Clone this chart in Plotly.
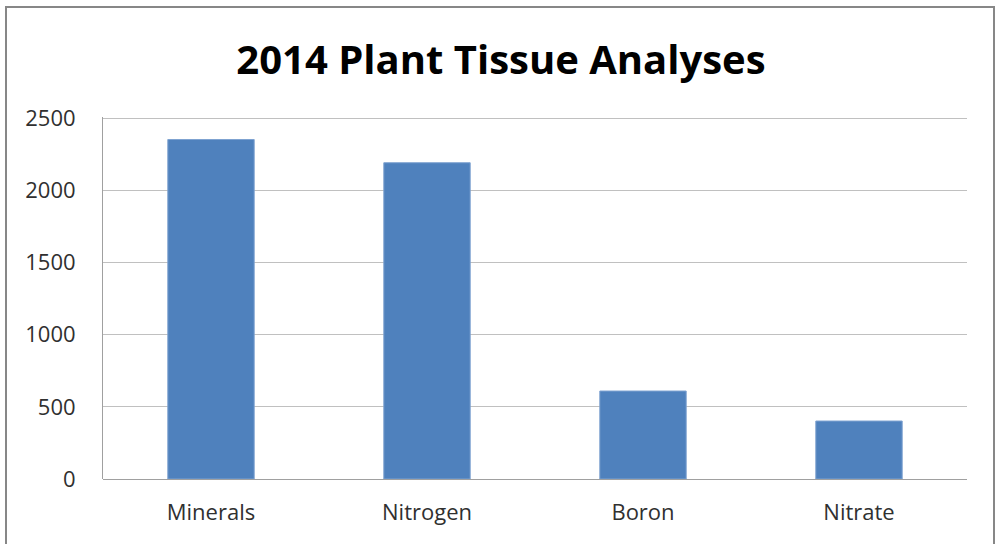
import plotly.graph_objects as go

categories = ["Minerals", "Nitrogen", "Boron", "Nitrate"]
values = [2354, 2193, 610, 402]
y_ticks = [0, 500, 1000, 1500, 2000, 2500]
title_text = "2014 Plant Tissue Analyses"

W, H = 995, 544
ML, MR, MT, MB = 103, 28, 117, 65
pw, ph = W - ML - MR, H - MT - MB

fig = go.Figure(go.Bar(
    x=categories, y=values,
    marker=dict(color="#4F81BD", line=dict(color="#7FA3D1", width=1)),
))

fig.update_layout(
    width=W, height=H,
    margin=dict(l=ML, r=MR, t=MT, b=MB, pad=0),
    paper_bgcolor="white", plot_bgcolor="white",
    bargap=0.6,
    showlegend=False,
    title=dict(text="<b>" + title_text + "</b>", x=(501 - ML) / pw, xref="paper", xanchor="center",
               y=1 - 60 / H, yanchor="middle",
               font=dict(family="Open Sans", size=40, color="black")),
    font=dict(family="Open Sans", color="#404040"),
    xaxis=dict(
        showgrid=False, showline=False, ticks="",
        tickfont=dict(size=22, color="#303030"),
        ticklabelstandoff=18,
    ),
    yaxis=dict(
        range=[0, 2510], tickvals=y_ticks, ticktext=[str(v) for v in y_ticks],
        showgrid=True, gridcolor="#C0C0C0", gridwidth=1,
        zeroline=True, zerolinecolor="#A0A0A0", zerolinewidth=1,
        showline=True, linecolor="#A0A0A0", linewidth=1,
        ticks="", tickfont=dict(size=22, color="#303030"),
        ticklabelstandoff=22,
    ),
)

fig.add_shape(type="rect", xref="paper", yref="paper",
              x0=(6 - ML) / pw, x1=(994 - ML) / pw,
              y0=-0.5, y1=(H - MB - 7) / ph,
              line=dict(color="#878787", width=2), fillcolor="rgba(0,0,0,0)")

fig.write_html("out.html", config={"displayModeBar": False},
               post_script="document.body.style.margin='0px';")
